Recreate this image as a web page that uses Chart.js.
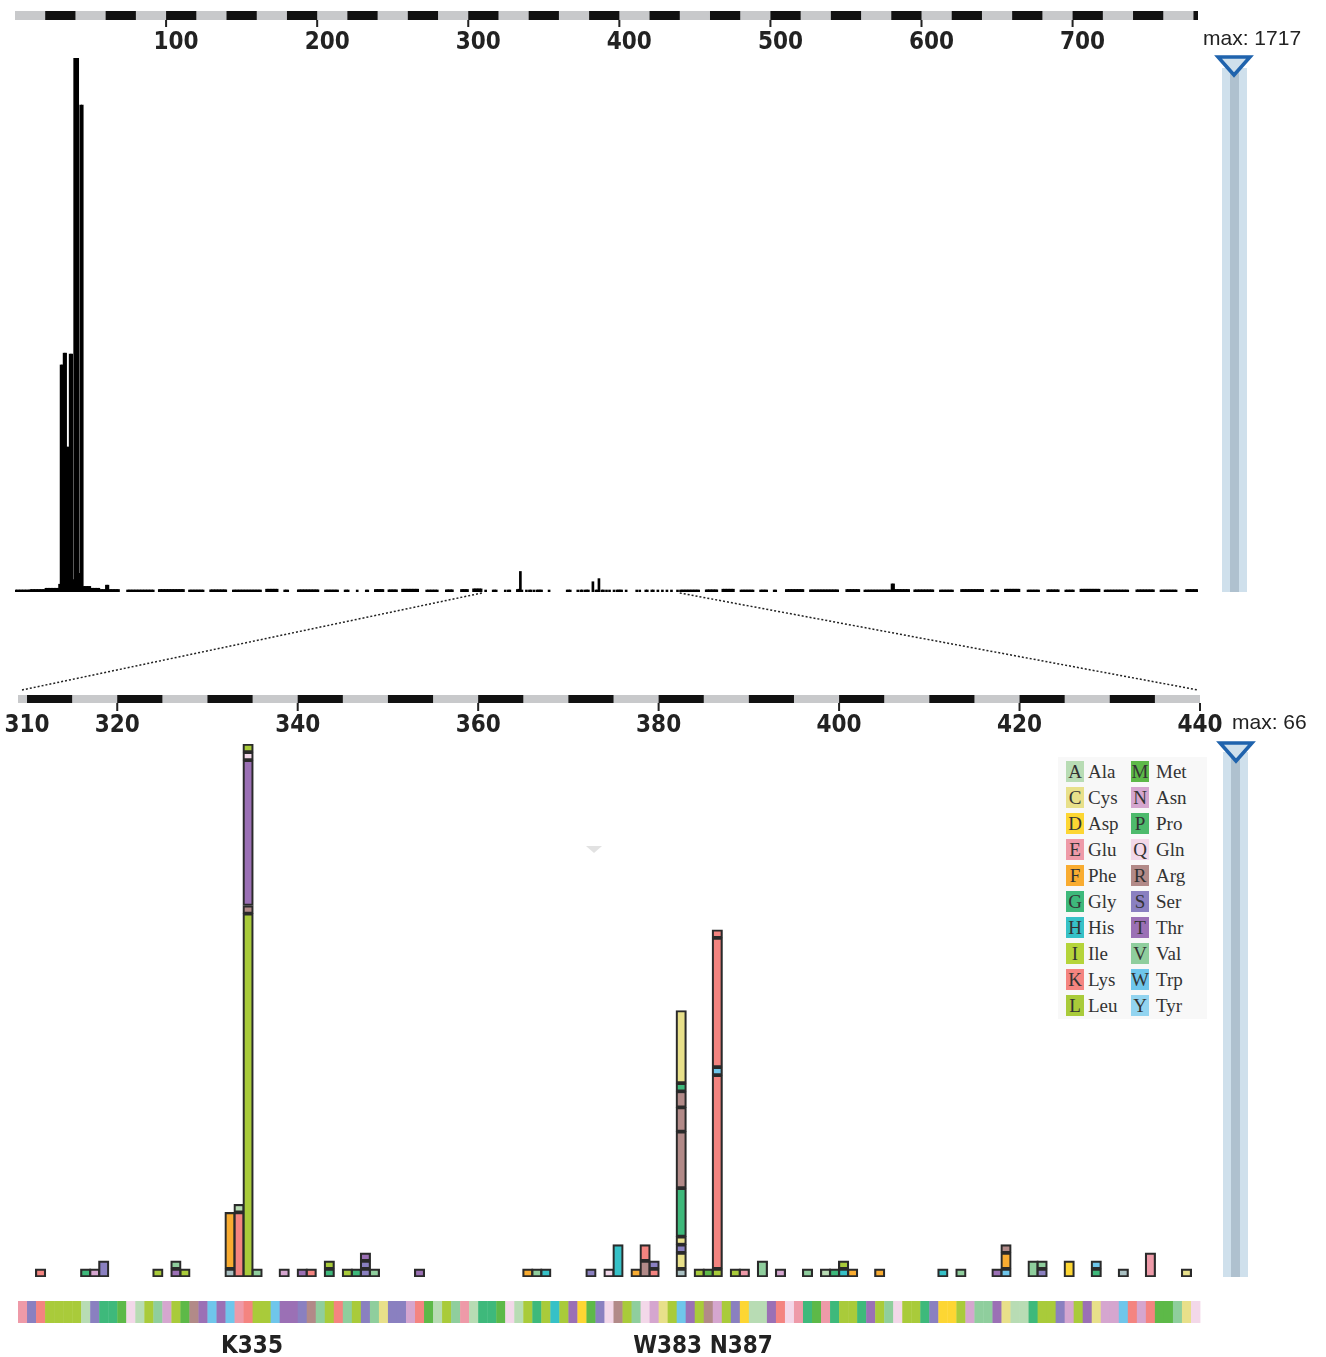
<!DOCTYPE html>
<html>
<head>
<meta charset="utf-8">
<script src="https://cdn.jsdelivr.net/npm/chart.js@4.4.1/dist/chart.umd.min.js"></script>
<style>
  html, body { margin: 0; padding: 0; background: #fff; }
  #page { position: relative; width: 1326px; height: 1357px; overflow: hidden; font-family: 'Liberation Sans', Arial, sans-serif; }
  canvas { position: absolute; left: 0; }
  .max { position: absolute; font-size: 21px; line-height: 21px; color: #222; white-space: nowrap; }
  .slider { position: absolute; width: 25px; background: #cfe0ec; }
  .slider::after { content: ''; position: absolute; left: 8px; width: 9px; top: 0; bottom: 0; background: #afc1cf; }
  .tri { position: absolute; }
  .site { position: absolute; font-family: 'Liberation Sans Narrow', 'DejaVu Sans Condensed', sans-serif; font-weight: bold;
          font-size: 24px; line-height: 25px; color: #222; transform: translateX(-50%); white-space: nowrap; }
  #legend { position: absolute; left: 1058px; top: 757px; width: 149px; height: 262px; background: #f8f8f8; }
  .lgBox { position: absolute; width: 18px; height: 21px; font-family: 'Liberation Serif', 'DejaVu Serif', serif; font-size: 19px;
           line-height: 21px; text-align: center; color: #333; }
  .lgName { position: absolute; font-family: 'Liberation Serif', 'DejaVu Serif', serif; font-size: 19px; line-height: 21px; color: #333; }
  #ghost { position: absolute; left: 586px; top: 846px; width: 0; height: 0; border-left: 8px solid transparent;
           border-right: 8px solid transparent; border-top: 7px solid #e2e2e2; }
</style>
</head>
<body>
<div id="page">
  <canvas id="overview" width="1326" height="600" style="top:0"></canvas>
  <canvas id="zoom" width="1326" height="757" style="top:600px"></canvas>
  <canvas id="links" width="1326" height="1357" style="top:0"></canvas>

  <div class="max" style="left:1203px; top:27px">max: 1717</div>
  <div class="slider" style="left:1222px; top:68px; height:524px"></div>
  <svg class="tri" style="left:1214px; top:53px" width="40" height="26">
    <polygon points="4,4 36,4 20,22" fill="#cfe0ec" stroke="#1f63ad" stroke-width="3.5" stroke-linejoin="miter"/>
  </svg>

  <div class="max" style="left:1232px; top:711px">max: 66</div>
  <div class="slider" style="left:1223px; top:752px; height:525px"></div>
  <svg class="tri" style="left:1216px; top:739px" width="40" height="26">
    <polygon points="4,4 36,4 20,22" fill="#cfe0ec" stroke="#1f63ad" stroke-width="3.5" stroke-linejoin="miter"/>
  </svg>

  <div id="legend"></div>
  <div id="ghost"></div>
  <div class="site" style="left:252px; top:1333px">K335</div>
  <div class="site" style="left:703px; top:1333px">W383 N387</div>
</div>

<script>
// ---- data: overview (whole protein, residues 1..783) ----
const overviewMax = 1717;
const overviewTicks = [100, 200, 300, 400, 500, 600, 700];
// low background coverage, [first residue, last residue, count]
const overviewRuns = [
  [1, 10, 5], [11, 20, 8], [21, 29, 12], [30, 30, 25],
  [46, 50, 18], [51, 56, 12], [57, 60, 8], [61, 62, 22], [63, 69, 8],
  [75, 92, 6], [96, 112, 8], [116, 125, 6], [130, 140, 7], [145, 163, 6], [167, 174, 9], [179, 181, 5],
  [188, 201, 7], [206, 214, 5], [219, 221, 6], [227, 227, 5], [233, 234, 6], [239, 244, 8], [248, 253, 7],
  [257, 267, 9], [273, 280, 6], [286, 290, 7], [296, 300, 8], [304, 309, 10],
  [441, 453, 6], [458, 465, 7], [469, 476, 9], [481, 489, 6], [494, 498, 5], [503, 504, 6], [511, 522, 8],
  [527, 545, 7], [551, 559, 8], [563, 580, 6], [581, 582, 26], [583, 592, 8], [596, 608, 7], [613, 621, 6],
  [627, 641, 8], [647, 651, 6], [656, 665, 9], [671, 678, 6], [684, 691, 7], [696, 701, 6], [706, 718, 9],
  [722, 737, 6], [743, 754, 7], [759, 769, 6], [776, 783, 8]
];
// the N-terminal hot spot
const overviewPeaks = [
  [31, 730], [32, 730], [33, 768], [34, 768], [35, 466], [36, 466], [37, 765], [38, 765], [39, 40],
  [40, 1717], [41, 1717], [42, 1717], [43, 60], [44, 1566], [45, 1566]
];

// ---- data: zoomed window 310..440 ----
const zoomMax = 66;
const zoomTicks = [310, 320, 340, 360, 380, 400, 420, 440];
const zoomStart = 310;
const zoomSequence = 'ESKLLLLASGGMQALVNLMRTWTWEKLLWTTSRVLKVLSVCSSNKMALVEAGGMQALGLHLTDMSQRLVQNCLWTLRNLSDAATKQEGMEGLLGTLVQLLGSDDLNVVTCAAGLLSNLTCNNWKNKMMVCQ';
const zoomPositions = [312, 317, 318, 319, 325, 327, 328, 333, 334, 335, 336, 339, 341, 342, 344, 346, 347, 348, 349, 354,
  366, 367, 368, 373, 375, 376, 378, 379, 380, 383, 385, 386, 387, 389, 390, 392, 394, 397, 399, 400, 401, 402, 405,
  412, 414, 418, 419, 422, 423, 426, 429, 432, 435, 439];
// stacks listed bottom to top, residue letter + count
const zoomStacks = ['K1', 'G1', 'N1', 'S2', 'L1', 'T1 V1', 'L1', 'X1 F7', 'K8 A1', 'L45 R1 T18 Q1 L1', 'V1', 'N1', 'T1', 'K1',
  'G1 L1', 'L1', 'G1', 'S1 S1 T1', 'V1', 'T1',
  'F1', 'V1', 'H1', 'S1', 'Q1', 'H4', 'F1', 'R2 K2', 'K1 S1', 'X1 C2 S1 C1 G6 R7 R3 R2 G1 C9', 'L1', 'M1', 'L1 K24 W1 K16 K1',
  'L1', 'E1', 'V2', 'N1', 'V1', 'A1', 'G1', 'H1 L1', 'F1', 'F1',
  'H1', 'V1', 'T1', 'W1 F2 R1', 'V2', 'S1 V1', 'D2', 'G1 W1', 'X1', 'E3', 'C1'];

const aaColors = {
  A: '#b8dcb4', C: '#e8e08a', D: '#fdd633', E: '#ee9aa8', F: '#f9ac31', G: '#3eb97b', H: '#36c1c7',
  I: '#b5d43a', K: '#f48480', L: '#a9cb3a', M: '#5db948', N: '#d5a6cf', P: '#4dba6c', Q: '#f3d8e9',
  R: '#b28a88', S: '#8a80c0', T: '#9b70b5', V: '#8fce9d', W: '#6fc6eb', Y: '#92d4f0', X: '#aac1c3'
};
const legendLeft = ['A', 'C', 'D', 'E', 'F', 'G', 'H', 'I', 'K', 'L'];
const legendRight = ['M', 'N', 'P', 'Q', 'R', 'S', 'T', 'V', 'W', 'Y'];
const aaNames = { A: 'Ala', C: 'Cys', D: 'Asp', E: 'Glu', F: 'Phe', G: 'Gly', H: 'His', I: 'Ile', K: 'Lys', L: 'Leu',
  M: 'Met', N: 'Asn', P: 'Pro', Q: 'Gln', R: 'Arg', S: 'Ser', T: 'Thr', V: 'Val', W: 'Trp', Y: 'Tyr' };

const tickFont = { family: "'Liberation Sans Narrow', 'DejaVu Sans Condensed', sans-serif", size: 24, weight: 'bold' };

function parseStack(s) {
  return s.split(' ').map(t => [t[0], parseInt(t.slice(1), 10)]);
}

// ---- overview values ----
const overviewValue = {};
overviewRuns.forEach(([a, b, v]) => { for (let r = a; r <= b; r++) overviewValue[r] = v; });
zoomPositions.forEach((p, i) => {
  overviewValue[p] = parseStack(zoomStacks[i]).reduce((s, seg) => s + seg[1], 0);
});
overviewPeaks.forEach(([r, v]) => { overviewValue[r] = v; });
const overviewData = Object.keys(overviewValue).map(r => ({ x: +r - 0.5, y: overviewValue[r] }));

// ---- zoom segments ----
const zoomSegments = [];
zoomPositions.forEach((pos, i) => {
  let base = 0;
  parseStack(zoomStacks[i]).forEach(([aa, n]) => {
    zoomSegments.push({ x: pos - 0.5, y: [base, base + n], aa: aa });
    base += n;
  });
});

function rulerPlugin(o) {
  return {
    id: 'ruler',
    afterDraw(chart) {
      const { ctx, chartArea, scales: { x } } = chart;
      const y0 = chartArea.top - o.offset;
      const left = x.getPixelForValue(x.min), right = x.getPixelForValue(x.max);
      ctx.save();
      ctx.fillStyle = '#c8c9cb';
      ctx.fillRect(left, y0, right - left, o.thick);
      ctx.fillStyle = '#111';
      for (let s = o.first; s < x.max; s += o.period) {
        const a = x.getPixelForValue(s), b = x.getPixelForValue(Math.min(s + o.dash, x.max));
        ctx.fillRect(a, y0, b - a, o.thick);
      }
      ctx.fillStyle = '#222';
      o.marks.forEach(v => {
        const px = x.getPixelForValue(v);
        ctx.fillRect(px - 1, y0 + o.thick, 2, o.tickLen);
      });
      ctx.restore();
    }
  };
}

const sequencePlugin = {
  id: 'sequence',
  afterDraw(chart) {
    const { ctx, chartArea, scales: { x } } = chart;
    ctx.save();
    for (let i = 0; i < zoomSequence.length; i++) {
      const r = zoomStart + i;
      const a = x.getPixelForValue(r - 1), b = x.getPixelForValue(r);
      ctx.fillStyle = aaColors[zoomSequence[i]];
      ctx.fillRect(a, chartArea.bottom + 24, b - a + 0.4, 22);
    }
    ctx.restore();
  }
};

const overviewChart = new Chart(document.getElementById('overview'), {
  type: 'bar',
  data: { datasets: [{ data: overviewData, backgroundColor: '#000', borderWidth: 0, barThickness: 2, minBarLength: 2 }] },
  options: {
    responsive: false,
    animation: false,
    layout: { padding: { left: 15, right: 128, top: 10, bottom: 8 } },
    plugins: { legend: { display: false }, tooltip: { enabled: false } },
    scales: {
      x: {
        type: 'linear', position: 'top', min: 0, max: 783, offset: false,
        grid: { display: false, drawTicks: false }, border: { display: false },
        afterBuildTicks: s => { s.ticks = overviewTicks.map(v => ({ value: v })); },
        afterFit: s => { s.height = 48; },
        ticks: { font: tickFont, color: '#222', padding: 1, labelOffset: 10, autoSkip: false, maxRotation: 0 }
      },
      y: { display: false, min: 0, max: overviewMax }
    }
  },
  plugins: [rulerPlugin({ offset: 47, thick: 9, first: 20, period: 40, dash: 20, marks: overviewTicks, tickLen: 7 })]
});

const zoomChart = new Chart(document.getElementById('zoom'), {
  type: 'bar',
  data: {
    datasets: [{
      data: zoomSegments,
      backgroundColor: c => aaColors[c.raw.aa],
      borderColor: '#2a2a2a',
      borderWidth: 2.2,
      borderSkipped: false,
      barThickness: 10.5
    }]
  },
  options: {
    responsive: false,
    animation: false,
    layout: { padding: { left: 18, right: 126, top: 90, bottom: 80 } },
    plugins: { legend: { display: false }, tooltip: { enabled: false } },
    scales: {
      x: {
        type: 'linear', position: 'top', min: 309, max: 440, offset: false,
        grid: { display: false, drawTicks: false }, border: { display: false },
        afterBuildTicks: s => { s.ticks = zoomTicks.map(v => ({ value: v })); },
        afterFit: s => { s.height = 54; },
        ticks: { font: tickFont, color: '#222', padding: 4, autoSkip: false, maxRotation: 0 }
      },
      y: { display: false, min: 0, max: zoomMax }
    }
  },
  plugins: [rulerPlugin({ offset: 49, thick: 8, first: 310, period: 10, dash: 5, marks: zoomTicks.slice(1), tickLen: 8 }), sequencePlugin]
});

// dotted zoom connectors
(function drawLinks() {
  const ctx = document.getElementById('links').getContext('2d');
  const ox = overviewChart.scales.x, zx = zoomChart.scales.x;
  const yTop = overviewChart.chartArea.bottom + 1;
  const yBot = 600 + zoomChart.chartArea.top - 54;
  ctx.strokeStyle = '#222';
  ctx.lineWidth = 1.5;
  ctx.setLineDash([2, 2]);
  [[zx.min, 4], [zx.max, -2]].forEach(([v, dx]) => {
    ctx.beginPath();
    ctx.moveTo(ox.getPixelForValue(v), yTop);
    ctx.lineTo(zx.getPixelForValue(v) + dx, yBot);
    ctx.stroke();
  });
})();

// amino-acid legend
(function buildLegend() {
  const box = document.getElementById('legend');
  [[legendLeft, 8, 30], [legendRight, 73, 98]].forEach(([letters, bx, nx]) => {
    letters.forEach((aa, i) => {
      const top = 4 + i * 26;
      const b = document.createElement('div');
      b.className = 'lgBox';
      b.style.left = bx + 'px';
      b.style.top = top + 'px';
      b.style.background = aaColors[aa];
      b.textContent = aa;
      box.appendChild(b);
      const n = document.createElement('div');
      n.className = 'lgName';
      n.style.left = nx + 'px';
      n.style.top = top + 'px';
      n.textContent = aaNames[aa];
      box.appendChild(n);
    });
  });
})();
</script>
</body>
</html>
